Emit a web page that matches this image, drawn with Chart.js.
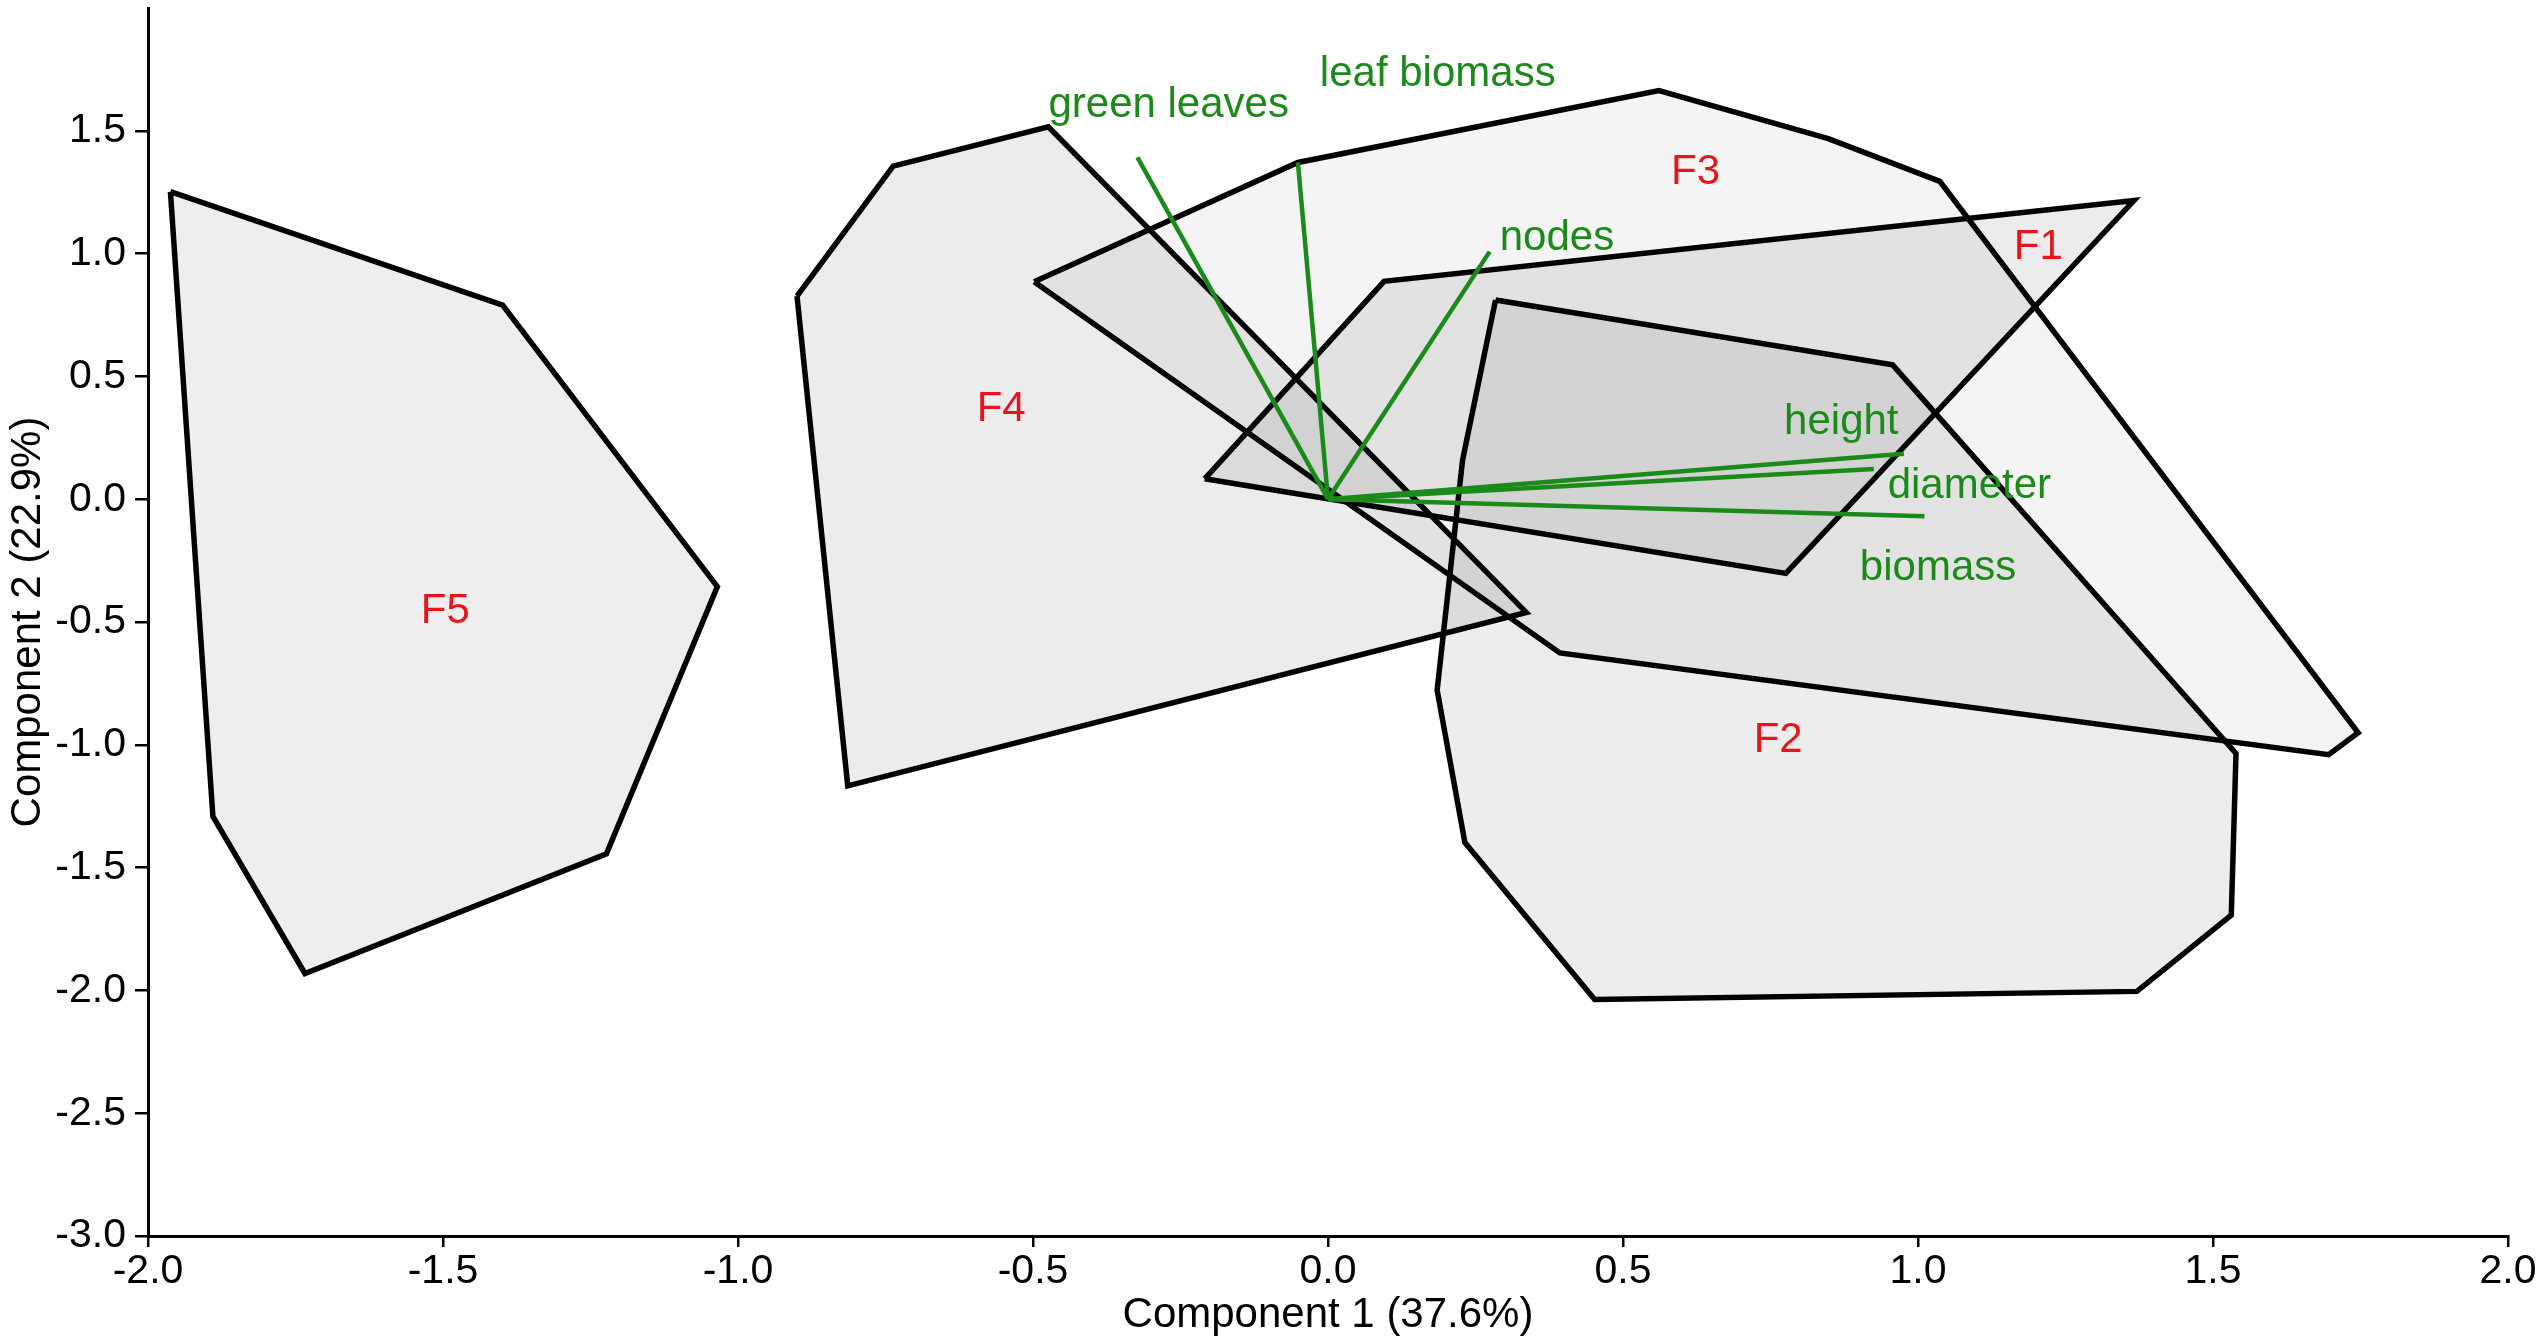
<!DOCTYPE html>
<html>
<head>
<meta charset="utf-8">
<script src="https://cdn.jsdelivr.net/npm/chart.js@4.4.1/dist/chart.umd.min.js"></script>
<style>
  html, body { margin: 0; padding: 0; background: #fff; }
  #wrap { width: 2544px; height: 1344px; }
</style>
</head>
<body>
<div id="wrap"><canvas id="pca"></canvas></div>
<script>
// convex hulls of the groups, in (Component 1, Component 2) units, closed
const groupNames = ["F1", "F2", "F3", "F4", "F5"];
const f1X = [-0.209, 0.095, 1.366, 0.776, -0.209];
const f1Y = [0.083, 0.887, 1.216, -0.302, 0.083];
const f2X = [0.284, 0.957, 1.539, 1.531, 1.371, 0.452, 0.232, 0.185, 0.228, 0.284];
const f2Y = [0.811, 0.547, -1.035, -1.694, -2.004, -2.037, -1.398, -0.778, 0.158, 0.811];
const f3X = [-0.498, -0.051, 0.561, 0.848, 1.037, 1.746, 1.696, 0.393, -0.498];
const f3Y = [0.885, 1.371, 1.664, 1.468, 1.294, -0.951, -1.040, -0.626, 0.885];
const f4X = [-0.900, -0.737, -0.474, 0.336, -0.814, -0.900];
const f4Y = [0.827, 1.356, 1.516, -0.461, -1.167, 0.827];
const f5X = [-1.962, -1.399, -1.035, -1.223, -1.734, -1.890, -1.962];
const f5Y = [1.252, 0.790, -0.356, -1.444, -1.931, -1.292, 1.252];

// where the group names sit
const groupLabelX = [1.204, 0.763, 0.623, -0.554, -1.496];
const groupLabelY = [1.024, -0.982, 1.329, 0.364, -0.458];

// trait loadings (vectors from the origin)
const traitNames = ["green leaves", "leaf biomass", "nodes", "height", "diameter", "biomass"];
const traitX = [-0.323, -0.051, 0.274, 0.976, 0.925, 1.011];
const traitY = [1.392, 1.371, 1.008, 0.185, 0.123, -0.069];
const traitLabelX = [-0.270, 0.186, 0.388, 0.870, 1.087, 1.034];
const traitLabelY = [1.603, 1.728, 1.063, 0.313, 0.050, -0.281];

const groupFill = ["rgba(0,0,0,0.075)", "rgba(0,0,0,0.072)", "rgba(0,0,0,0.045)", "rgba(0,0,0,0.075)", "rgba(0,0,0,0.067)"];
const FONT = '"Liberation Sans", Arial, sans-serif';
const GREEN = "#1b8a1b";
const RED = "#e8141c";

const hulls = [[f1X, f1Y], [f2X, f2Y], [f3X, f3Y], [f4X, f4Y], [f5X, f5Y]];

const datasets = [];
traitNames.forEach((name, i) => {
  datasets.push({
    label: name,
    data: [{ x: 0, y: 0 }, { x: traitX[i], y: traitY[i] }],
    showLine: true, fill: false, pointRadius: 0,
    borderColor: GREEN, borderWidth: 4.5, order: 0
  });
});
hulls.forEach(([xs, ys], i) => {
  datasets.push({
    label: groupNames[i],
    data: xs.map((v, k) => ({ x: v, y: ys[k] })),
    showLine: true, fill: "shape", pointRadius: 0, tension: 0,
    backgroundColor: groupFill[i], borderColor: "#000", borderWidth: 5.5,
    borderJoinStyle: "miter", order: 1
  });
});

const labelPlugin = {
  id: "pcaLabels",
  afterDatasetsDraw(chart) {
    const { ctx, scales: { x, y } } = chart;
    ctx.save();
    ctx.font = "42px " + FONT;
    ctx.textAlign = "center";
    ctx.textBaseline = "middle";
    ctx.fillStyle = RED;
    groupNames.forEach((n, i) =>
      ctx.fillText(n, x.getPixelForValue(groupLabelX[i]), y.getPixelForValue(groupLabelY[i])));
    ctx.fillStyle = GREEN;
    traitNames.forEach((n, i) =>
      ctx.fillText(n, x.getPixelForValue(traitLabelX[i]), y.getPixelForValue(traitLabelY[i])));
    ctx.restore();
  }
};

new Chart(document.getElementById("pca"), {
  type: "scatter",
  data: { datasets },
  plugins: [labelPlugin],
  options: {
    responsive: true,
    maintainAspectRatio: false,
    animation: false,
    devicePixelRatio: 1,
    layout: { padding: { top: 8, right: 36, left: 0, bottom: 0 } },
    plugins: {
      legend: { display: false },
      tooltip: { enabled: false },
      filler: { drawTime: "beforeDatasetsDraw" }
    },
    scales: {
      x: {
        type: "linear", min: -2, max: 2,
        afterFit: s => { s.height = 108; },
        ticks: { stepSize: 0.5, padding: 0, color: "#000", font: { family: FONT, size: 41 },
                 callback: v => v.toFixed(1) },
        grid: { drawOnChartArea: false, tickLength: 11, color: "#000", lineWidth: 2.5 },
        border: { color: "#000", width: 3 },
        title: { display: true, text: "Component 1 (37.6%)", color: "#000",
                 font: { family: FONT, size: 42 }, padding: { top: 0, bottom: 3 } }
      },
      y: {
        type: "linear", min: -3, max: 2,
        afterFit: s => { s.width = 148; s.paddingTop = 0; s.paddingBottom = 0; },
        ticks: { stepSize: 0.5, padding: 9, color: "#000", font: { family: FONT, size: 41 },
                 callback: v => Math.abs(v - 2) < 1e-9 ? "" : v.toFixed(1) },
        grid: { drawOnChartArea: false, tickLength: 13, lineWidth: 2.5,
                tickColor: c => (c.tick && Math.abs(c.tick.value - 2) < 1e-9) ? "rgba(0,0,0,0)" : "#000" },
        border: { color: "#000", width: 3 },
        title: { display: true, text: "Component 2 (22.9%)", color: "#000",
                 font: { family: FONT, size: 42 }, padding: { top: 3, bottom: 0 } }
      }
    }
  }
});
</script>
</body>
</html>
